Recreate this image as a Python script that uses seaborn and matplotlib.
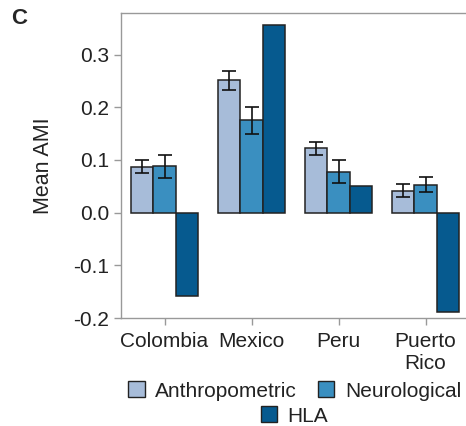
import matplotlib
matplotlib.use("Agg")
import matplotlib.pyplot as plt
import seaborn as sns
import pandas as pd
import numpy as np
from matplotlib.patches import Patch

countries = ["Colombia", "Mexico", "Peru", "Puerto Rico"]
tick_labels = ["Colombia", "Mexico", "Peru", "Puerto\nRico"]
groups = ["Anthropometric", "Neurological", "HLA"]
anthro = [0.087, 0.251, 0.122, 0.042]
anthro_err = [0.012, 0.018, 0.013, 0.012]
neuro = [0.088, 0.175, 0.078, 0.053]
neuro_err = [0.022, 0.025, 0.021, 0.014]
hla = [-0.159, 0.356, 0.050, -0.188]
colors = ["#a7bcd9", "#3a8fc0", "#065a8f"]

df = pd.DataFrame({
    "country": countries * 3,
    "group": [g for g in groups for _ in countries],
    "value": anthro + neuro + hla,
})

sns.set_style("ticks")
plt.rcParams["font.family"] = ["Liberation Sans", "DejaVu Sans"]

fig = plt.figure(figsize=(4.66, 4.26), dpi=100)
ax = fig.add_axes([121/466, 1-318/426, 348/466, (318-13)/426])

sns.barplot(data=df, x="country", y="value", hue="group", order=countries,
            hue_order=groups, palette=colors, width=0.77, errorbar=None,
            edgecolor="#222222", linewidth=1.1, ax=ax, legend=False, saturation=1)

errs = [anthro_err, neuro_err, None]
vals = [anthro, neuro, hla]
for cont, e, v in zip(ax.containers, errs, vals):
    if e is None:
        continue
    xs = [p.get_x() + p.get_width()/2 for p in cont.patches]
    ax.errorbar(xs, v, yerr=e, fmt="none", ecolor="#111111", elinewidth=1.2,
                capsize=5, capthick=1.2, zorder=5)

ax.set_xlim(-0.5, 3.5)
ax.set_ylim(-0.2, 0.379)
ax.set_yticks([-0.2, -0.1, 0.0, 0.1, 0.2, 0.3])
ax.set_yticklabels(["-0.2", "-0.1", "0.0", "0.1", "0.2", "0.3"])
ax.set_xticks(range(4))
ax.set_xticklabels(tick_labels)
ax.set_xlabel("")
ax.set_ylabel("Mean AMI", fontsize=15.5, color="#222222", labelpad=14)
for s in ["left", "top", "bottom", "right"]:
    ax.spines[s].set_visible(True)
    ax.spines[s].set_color("#999999")
    ax.spines[s].set_linewidth(1.0)
ax.tick_params(axis="both", colors="#999999", labelcolor="#222222",
               labelsize=15, length=5, width=1)
ax.tick_params(axis="x", pad=5)

h1 = [Patch(facecolor=colors[0], edgecolor="#222222", label=groups[0]),
      Patch(facecolor=colors[1], edgecolor="#222222", label=groups[1])]
h2 = [Patch(facecolor=colors[2], edgecolor="#222222", label=groups[2])]
leg1 = fig.legend(handles=h1, loc="center", bbox_to_anchor=(0.632, 1-391/426),
                  ncol=2, frameon=False, fontsize=15, handlelength=0.8,
                  handleheight=0.8, handletextpad=0.5, columnspacing=1.0,
                  labelcolor="#222222", borderpad=0)
leg2 = fig.legend(handles=h2, loc="center", bbox_to_anchor=(0.632, 1-416/426),
                  ncol=1, frameon=False, fontsize=15, handlelength=0.8,
                  handleheight=0.8, handletextpad=0.5, labelcolor="#222222",
                  borderpad=0)

fig.text(11/466, 1-19/426, "C", fontsize=16, fontweight="bold", va="center", ha="left")

fig.savefig("out.png", dpi=100)
